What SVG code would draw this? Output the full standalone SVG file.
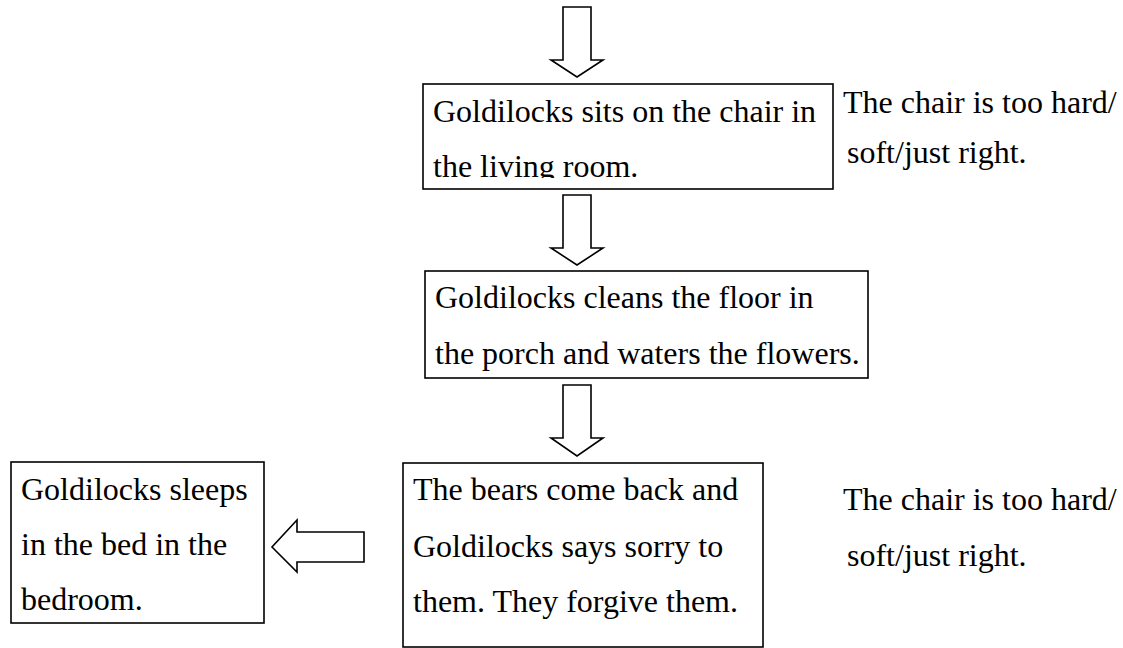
<svg xmlns="http://www.w3.org/2000/svg" width="1123" height="648" viewBox="0 0 1123 648">
<style>
text{font-family:"Liberation Serif","Times New Roman",serif;font-size:32px;fill:#000}
.box{fill:#fff;stroke:#000;stroke-width:1.6}
.arr{fill:#fff;stroke:#000;stroke-width:1.6;stroke-linejoin:miter}
</style>
<defs>
<clipPath id="c1"><rect x="424" y="85" width="408" height="93"/></clipPath>
</defs>
<rect width="1123" height="648" fill="#fff"/>
<g id="connectors">
<path class="arr" d="M563,7 H591 V60 H603 L577,77 L551,60 H563 Z"/>
<path class="arr" d="M563,195 H591 V248 H603 L577,265 L551,248 H563 Z"/>
<path class="arr" d="M563,385 H591 V438 H603 L577,456 L551,438 H563 Z"/>
<path class="arr" d="M364,532 V562 H297 V572 L272,547 L297,520 V532 Z"/>
</g>
<g id="node1">
<rect class="box" x="423" y="84" width="410" height="105"/>
<g clip-path="url(#c1)">
<text x="433" y="122">Goldilocks sits on the chair in</text>
<text x="433" y="177">the living room.</text>
</g>
</g>
<g id="note1">
<text x="843" y="113">The chair is too hard/</text>
<text x="847" y="163">soft/just right.</text>
</g>
<g id="node2">
<rect class="box" x="425" y="271" width="443" height="107"/>
<text x="435" y="308">Goldilocks cleans the floor in</text>
<text x="435" y="364">the porch and waters the flowers.</text>
</g>
<g id="node3">
<rect class="box" x="403" y="463" width="360" height="184"/>
<text x="413" y="500">The bears come back and</text>
<text x="413" y="557">Goldilocks says sorry to</text>
<text x="413" y="612">them. They forgive them.</text>
</g>
<g id="node4">
<rect class="box" x="11" y="462" width="253" height="161"/>
<text x="21" y="500">Goldilocks sleeps</text>
<text x="21" y="555">in the bed in the</text>
<text x="21" y="610">bedroom.</text>
</g>
<g id="note2">
<text x="843" y="510">The chair is too hard/</text>
<text x="847" y="566">soft/just right.</text>
</g>
</svg>
